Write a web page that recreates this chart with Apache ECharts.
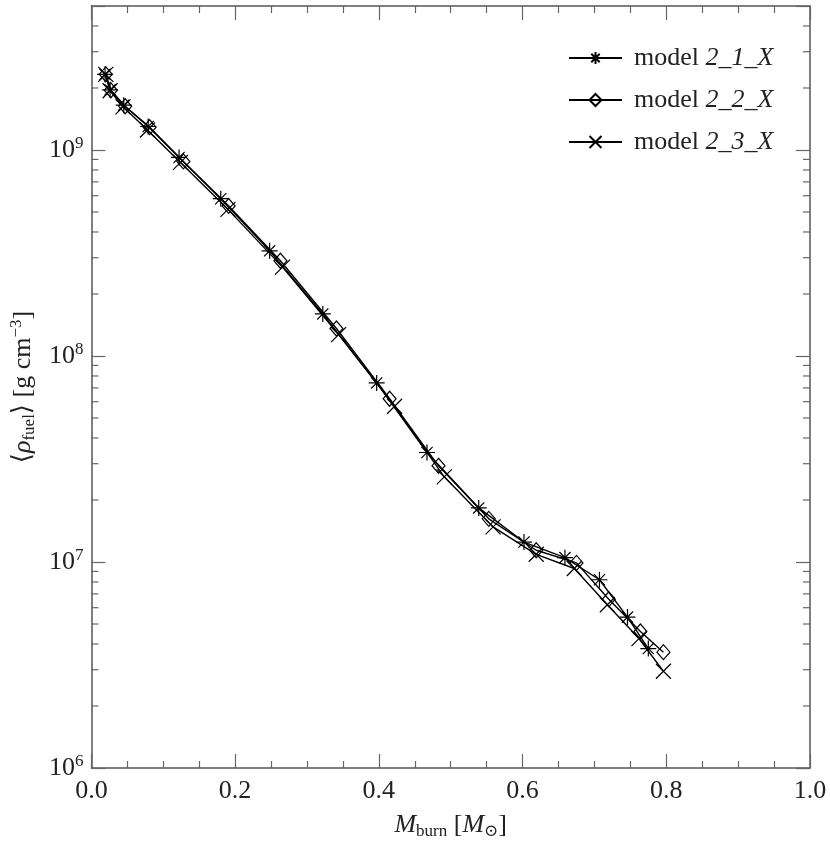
<!DOCTYPE html>
<html>
<head>
<meta charset="utf-8">
<title>rho fuel vs M burn</title>
<script src="https://cdn.jsdelivr.net/npm/echarts@6/dist/echarts.min.js"></script>
<style>
  html, body { margin: 0; padding: 0; background: #fff; }
  #chart { width: 830px; height: 845px; }
</style>
</head>
<body>
<div id="chart"></div>
<script>
// model 2_1_X (asterisk)
const m1X = [0.019, 0.026, 0.045, 0.079, 0.122, 0.180, 0.248, 0.322, 0.397, 0.467, 0.539, 0.602, 0.659, 0.707, 0.746, 0.775]
const m1Y = [2.33e9, 1.96e9, 1.65e9, 1.30e9, 9.2e8, 5.8e8, 3.24e8, 1.60e8, 7.4e7, 3.4e7, 1.83e7, 1.25e7, 1.05e7, 8.2e6, 5.4e6, 3.8e6]
// model 2_2_X (diamond)
const m2X = [0.020, 0.027, 0.047, 0.081, 0.128, 0.191, 0.263, 0.341, 0.415, 0.483, 0.553, 0.619, 0.675, 0.720, 0.764, 0.796]
const m2Y = [2.33e9, 1.95e9, 1.63e9, 1.29e9, 8.8e8, 5.35e8, 2.9e8, 1.36e8, 6.2e7, 2.93e7, 1.62e7, 1.14e7, 9.9e6, 6.6e6, 4.6e6, 3.65e6]
// model 2_3_X (cross)
const m3X = [0.020, 0.026, 0.044, 0.078, 0.124, 0.190, 0.266, 0.344, 0.422, 0.491, 0.559, 0.619, 0.672, 0.718, 0.762, 0.796]
const m3Y = [2.33e9, 1.94e9, 1.62e9, 1.25e9, 8.7e8, 5.15e8, 2.7e8, 1.27e8, 5.7e7, 2.59e7, 1.48e7, 1.09e7, 9.3e6, 6.2e6, 4.25e6, 2.95e6]

const seriesNames = ['model 2_1_X', 'model 2_2_X', 'model 2_3_X']
const yMin = 1e6
const yMax = 5e9
const decades = [1e6, 1e7, 1e8, 1e9]
const minorMults = [2, 3, 4, 5, 6, 7, 8, 9]

const FONT = "'Liberation Serif', 'DejaVu Serif', serif"
const TXT = '#222'
const AXC = '#555'

// log minor tick positions (2..9 x 10^n)
const minorTicks = []
decades.forEach(d => minorMults.forEach(m => { if (d * m < yMax) minorTicks.push([0, d * m]) }))

const pairs = (xs, ys) => xs.map((x, i) => [x, ys[i]])

const ASTERISK = 'path://M5,0L5,10M0,5L10,5M1.5,1.5L8.5,8.5M8.5,1.5L1.5,8.5'
const CROSS = 'path://M0,0L10,10M10,0L0,10'

const chart = echarts.init(document.getElementById('chart'))

const lineSeries = (name, data, symbol, size) => ({
  name,
  type: 'line',
  data,
  symbol,
  symbolSize: size,
  showAllSymbol: true,
  lineStyle: { color: '#000', width: 1.4 },
  itemStyle: { color: 'rgba(0,0,0,0)', borderColor: '#000', borderWidth: 1.2 },
  emphasis: { disabled: true },
  z: 3
})

const yTickLabel = v => {
  const e = Math.round(Math.log10(v))
  if (Math.abs(v - Math.pow(10, e)) > 1e-6 * v) return ''
  return '{b|10}{e|' + e + '}'
}

const option = {
  animation: false,
  backgroundColor: '#fff',
  grid: { left: 83, right: 20, top: 6, bottom: 63 },
  legend: {
    data: seriesNames,
    orient: 'vertical',
    left: 563,
    top: 40,
    itemWidth: 53,
    itemHeight: 15,
    itemGap: 16,
    formatter: n => '{r|model }{it|' + n.slice(6) + '}',
    textStyle: {
      padding: [0, 0, 0, 7],
      rich: {
        r: { fontFamily: FONT, fontSize: 26, color: TXT, lineHeight: 30 },
        it: { fontFamily: FONT, fontSize: 26, fontStyle: 'italic', color: TXT, lineHeight: 30 }
      }
    }
  },
  xAxis: [
    {
      type: 'value', min: 0, max: 1, interval: 0.2,
      position: 'bottom',
      axisLine: { show: true, onZero: false, lineStyle: { color: AXC, width: 1.5 } },
      axisTick: { inside: true, length: 14, lineStyle: { color: '#666', width: 1.2 } },
      minorTick: { show: true, splitNumber: 4, length: 7, lineStyle: { color: '#666', width: 1.2 } },
      splitLine: { show: false },
      axisLabel: { formatter: v => v.toFixed(1), fontFamily: FONT, fontSize: 26, color: TXT, margin: 10 },
      name: '{i|M}{s|burn}{n| [}{i|M}{s|⊙}{n|]}',
      nameLocation: 'middle',
      nameGap: 42,
      nameTextStyle: {
        rich: {
          i: { fontFamily: FONT, fontSize: 26, fontStyle: 'italic', color: TXT, lineHeight: 30 },
          n: { fontFamily: FONT, fontSize: 26, color: TXT, lineHeight: 30 },
          s: { fontFamily: FONT, fontSize: 17, color: TXT, lineHeight: 17, verticalAlign: 'bottom' }
        }
      }
    },
    {
      type: 'value', min: 0, max: 1, interval: 0.2,
      position: 'top',
      axisLine: { show: true, onZero: false, lineStyle: { color: AXC, width: 1.5 } },
      axisTick: { inside: true, length: 14, lineStyle: { color: '#666', width: 1.2 } },
      minorTick: { show: true, splitNumber: 4, length: 7, lineStyle: { color: '#666', width: 1.2 } },
      splitLine: { show: false },
      axisLabel: { show: false }
    }
  ],
  yAxis: [
    {
      type: 'log', logBase: 10, min: yMin, max: yMax,
      position: 'left',
      axisLine: { show: true, onZero: false, lineStyle: { color: AXC, width: 1.5 } },
      axisTick: { inside: true, length: 14, lineStyle: { color: '#666', width: 1.2 } },
      splitLine: { show: false },
      axisLabel: {
        formatter: yTickLabel,
        margin: 8,
        rich: {
          b: { fontFamily: FONT, fontSize: 26, color: TXT, lineHeight: 30 },
          e: { fontFamily: FONT, fontSize: 17, color: TXT, lineHeight: 17, verticalAlign: 'top' }
        }
      },
      name: '{n|⟨}{i|ρ}{s|fuel}{n|⟩ [g cm}{p|−3}{n|]}',
      nameLocation: 'middle',
      nameRotate: 90,
      nameGap: 52,
      nameTextStyle: {
        rich: {
          i: { fontFamily: FONT, fontSize: 26, fontStyle: 'italic', color: TXT, lineHeight: 30 },
          n: { fontFamily: FONT, fontSize: 26, color: TXT, lineHeight: 30 },
          s: { fontFamily: FONT, fontSize: 17, color: TXT, lineHeight: 17, verticalAlign: 'bottom' },
          p: { fontFamily: FONT, fontSize: 17, color: TXT, lineHeight: 17, verticalAlign: 'top' }
        }
      }
    },
    {
      type: 'log', logBase: 10, min: yMin, max: yMax,
      position: 'right',
      axisLine: { show: true, onZero: false, lineStyle: { color: AXC, width: 1.5 } },
      axisTick: { inside: true, length: 14, lineStyle: { color: '#666', width: 1.2 } },
      splitLine: { show: false },
      axisLabel: { show: false }
    }
  ],
  series: [
    lineSeries(seriesNames[0], pairs(m1X, m1Y), ASTERISK, 16),
    lineSeries(seriesNames[1], pairs(m2X, m2Y), 'diamond', [13, 15]),
    lineSeries(seriesNames[2], pairs(m3X, m3Y), CROSS, 15),
    {
      // minor log ticks on left and right frame
      type: 'custom',
      silent: true,
      data: minorTicks,
      encode: { x: 0, y: 1 },
      renderItem: (params, api) => {
        const v = api.value(1)
        const pl = api.coord([0, v])
        const pr = api.coord([1, v])
        const st = { stroke: '#666', lineWidth: 1.2 }
        return {
          type: 'group',
          children: [
            { type: 'line', shape: { x1: pl[0], y1: pl[1], x2: pl[0] + 7, y2: pl[1] }, style: st },
            { type: 'line', shape: { x1: pr[0] - 7, y1: pr[1], x2: pr[0], y2: pr[1] }, style: st }
          ]
        }
      },
      z: 1
    }
  ]
}

chart.setOption(option)
</script>
</body>
</html>
